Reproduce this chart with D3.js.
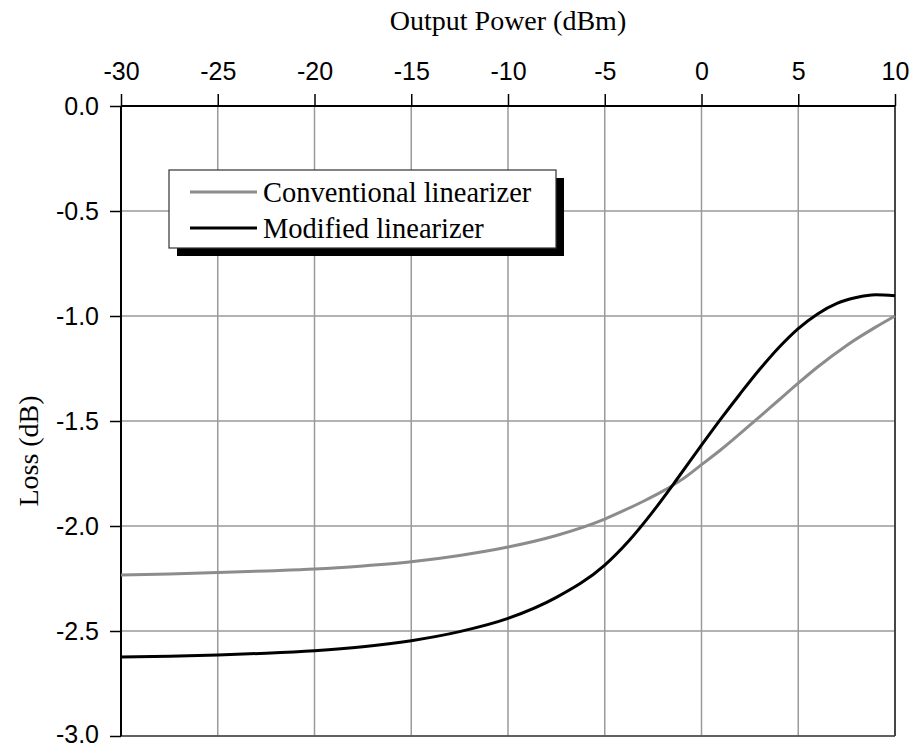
<html>
  <head>
    <meta charset="utf-8">
    <script src="https://d3js.org/d3.v7.min.js"></script>
    <style>
      body { margin: 0; background: #fff; }
    </style>
  </head>
  <body>
    <script type="text/javascript">
      // values
      var convX = [-30,-27.5,-25,-22.5,-20,-17.5,-15,-12.5,-10,-7.5,-5,-4,-3,-2,-1,0,1,2.5,4,5,6,7.5,9,10];
      var convY = [-2.233,-2.228,-2.222,-2.214,-2.205,-2.19,-2.17,-2.14,-2.10,-2.045,-1.967,-1.926,-1.882,-1.834,-1.778,-1.708,-1.637,-1.52,-1.40,-1.32,-1.243,-1.14,-1.053,-1.0];
      var modX = [-30,-27.5,-25,-22.5,-20,-17.5,-15,-12.5,-10,-7.5,-5,-3.75,-2.5,-1.25,0,1,2,3,4,5,6,7,8,9,10];
      var modY = [-2.624,-2.62,-2.614,-2.606,-2.594,-2.575,-2.546,-2.503,-2.44,-2.34,-2.186,-2.07,-1.93,-1.775,-1.615,-1.49,-1.37,-1.255,-1.15,-1.06,-0.99,-0.94,-0.912,-0.899,-0.903];
      var xTicks = [-30,-25,-20,-15,-10,-5,0,5,10];
      var yTicks = [0,-0.5,-1,-1.5,-2,-2.5,-3];
      var seriesNames = ["Conventional linearizer","Modified linearizer"];
      var seriesColors = ["#8c8c8c","#000"];

      var w = 912, h = 747;
      var pLeft = 121, pRight = 895, pTop = 106, pBottom = 736;

      var x = d3.scaleLinear().domain([-30,10]).range([pLeft,pRight]);
      var y = d3.scaleLinear().domain([-3,0]).range([pBottom,pTop]);

      var svg = d3.select("body").append("svg")
        .attr("width",w)
        .attr("height",h);

//grid
      svg.append("g").selectAll("line").data(xTicks).enter().append("line")
        .attr("x1",d => x(d)).attr("x2",d => x(d))
        .attr("y1",pTop).attr("y2",pBottom)
        .attr("stroke","#9a9a9a").attr("stroke-width",1.5);

      svg.append("g").selectAll("line").data(yTicks).enter().append("line")
        .attr("x1",pLeft).attr("x2",pRight)
        .attr("y1",d => y(d)).attr("y2",d => y(d))
        .attr("stroke","#9a9a9a").attr("stroke-width",1.5);

//frame: right and bottom
      svg.append("line").attr("x1",pRight).attr("x2",pRight).attr("y1",pTop).attr("y2",pBottom)
        .attr("stroke","#222").attr("stroke-width",1.5);
      svg.append("line").attr("x1",pLeft).attr("x2",pRight).attr("y1",pBottom).attr("y2",pBottom)
        .attr("stroke","#444").attr("stroke-width",1.5);

//axes (plain hyphen for minus, like the original)
      var fmtX = d => String(d);
      var fmtY = d => d3.format(".1f")(d).replace("\u2212","-");
      var xAxis = d3.axisTop(x).tickValues(xTicks).tickSize(12).tickPadding(14).tickFormat(fmtX);
      var yAxis = d3.axisLeft(y).tickValues(yTicks).tickSize(11).tickPadding(11).tickFormat(fmtY);

      var gx = svg.append("g")
        .attr("transform","translate(0," + pTop + ")")
        .call(xAxis);
      var gy = svg.append("g")
        .attr("transform","translate(" + pLeft + ",0)")
        .call(yAxis);

      [gx, gy].forEach(function(g){
        g.select(".domain").attr("stroke","#000").attr("stroke-width",2);
        g.selectAll(".tick line").attr("stroke","#000").attr("stroke-width",1.5);
        g.selectAll(".tick text")
          .attr("fill","#000")
          .style("font-family","'Liberation Sans', Arial, sans-serif")
          .style("font-size","25px");
      });
      gx.select(".domain").attr("d","M" + pLeft + ",0H" + pRight);
      gy.select(".domain").attr("d","M0," + pTop + "V" + pBottom);
      gy.selectAll(".tick text").attr("dy","0.33em");
      // keep the lowest label inside the page
      gy.selectAll(".tick text").filter(d => d === -3).attr("dy","0.26em");

//titles
      svg.append("text")
        .attr("x",508).attr("y",30)
        .attr("text-anchor","middle")
        .style("font-family","'Liberation Serif', 'Times New Roman', serif")
        .style("font-size","28px")
        .text("Output Power (dBm)");

      svg.append("text")
        .attr("transform","translate(38,451) rotate(-90)")
        .attr("text-anchor","middle")
        .style("font-family","'Liberation Serif', 'Times New Roman', serif")
        .style("font-size","28px")
        .text("Loss (dB)");

//curves
      var line = d3.line()
        .x(d => x(d[0]))
        .y(d => y(d[1]))
        .curve(d3.curveMonotoneX);

      var convData = convX.map((d,i) => [d, convY[i]]);
      var modData = modX.map((d,i) => [d, modY[i]]);

      svg.append("path").datum(convData)
        .attr("fill","none")
        .attr("stroke",seriesColors[0])
        .attr("stroke-width",3)
        .attr("d",line);

      svg.append("path").datum(modData)
        .attr("fill","none")
        .attr("stroke",seriesColors[1])
        .attr("stroke-width",3)
        .attr("d",line);

//legend
      var lg = svg.append("g").attr("transform","translate(169,170)");
      lg.append("rect")
        .attr("x",8).attr("y",8)
        .attr("width",387).attr("height",78)
        .attr("fill","#000");
      lg.append("rect")
        .attr("x",0).attr("y",0)
        .attr("width",387).attr("height",78)
        .attr("fill","#fff")
        .attr("stroke","#333").attr("stroke-width",1.2);

      var items = lg.selectAll("g.item").data(seriesNames).enter().append("g")
        .attr("class","item")
        .attr("transform",(d,i) => "translate(0," + (22 + i*36) + ")");
      items.append("line")
        .attr("x1",21).attr("x2",88)
        .attr("y1",0).attr("y2",0)
        .attr("stroke",(d,i) => seriesColors[i])
        .attr("stroke-width",3);
      items.append("text")
        .attr("x",94).attr("y",10)
        .style("font-family","'Liberation Serif', 'Times New Roman', serif")
        .style("font-size","28.5px")
        .text(d => d);
    </script>
  </body>
</html>
